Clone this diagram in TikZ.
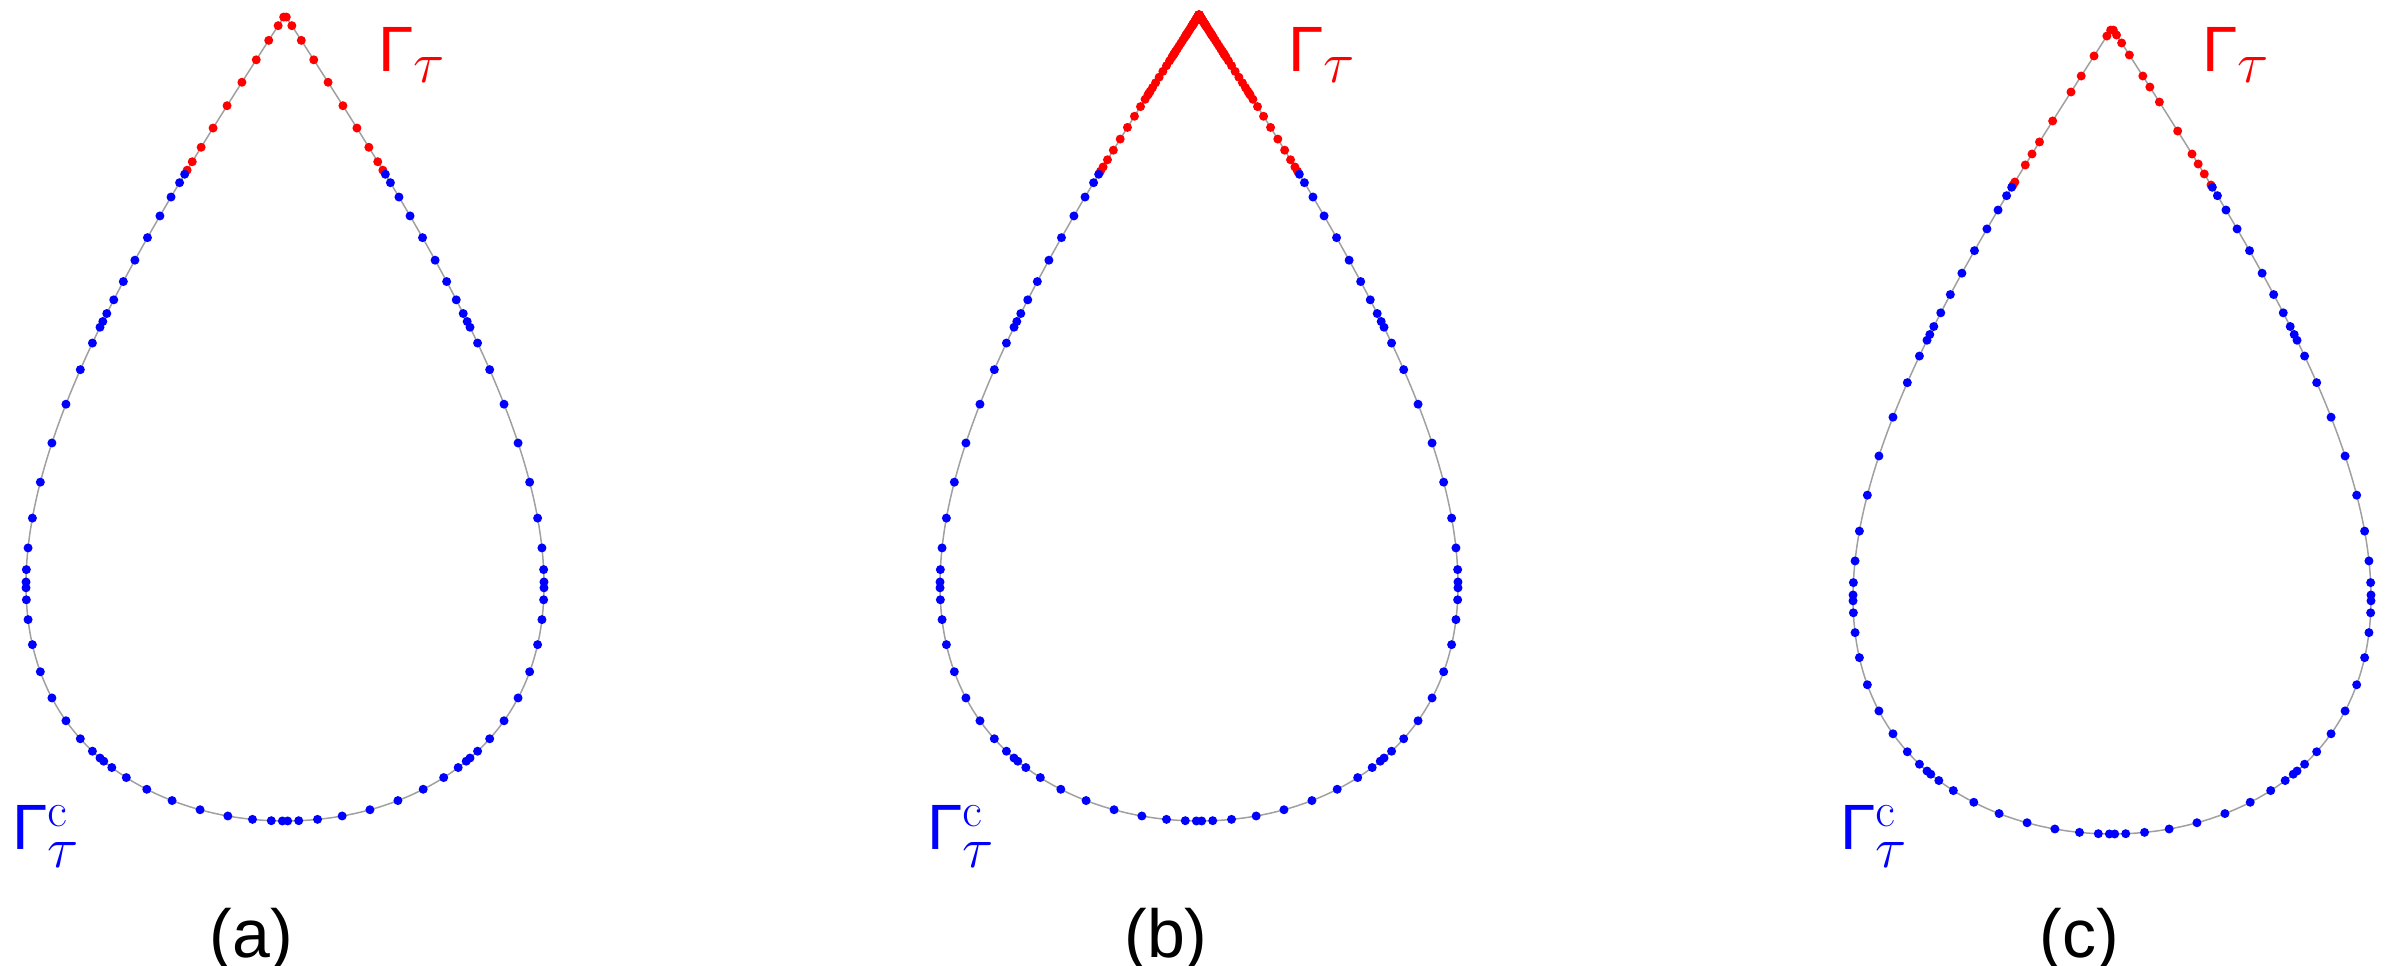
\RequirePackage{fix-cm}
\documentclass[tikz,border=0pt]{standalone}
\usepackage{fontspec}
\newfontfamily\lblfont{Liberation Sans}
\definecolor{curvegray}{RGB}{160,160,160}
\newcommand{\GL}{-0.9739065285,-0.8650633667,-0.6794095683,-0.4333953941,-0.1488743390,0.1488743390,0.4333953941,0.6794095683,0.8650633667,0.9739065285}
\newcommand{\Gsf}{{\lblfont\fontsize{64}{64}\selectfont Γ}}
\newcommand{\supc}{{\fontencoding{OT1}\fontfamily{cmr}\fontseries{m}\fontshape{n}\fontsize{48}{48}\selectfont c}}
\newcommand{\toplbl}{\Gsf\raisebox{-11pt}{\fontsize{58}{58}\selectfont$\tau$}}
\newcommand{\botlbl}{\Gsf\rlap{\raisebox{23pt}{\supc}}\raisebox{-18pt}{\fontsize{58}{58}\selectfont$\tau$}}
\tikzset{
  curveline/.style={line width=1.5pt, draw=curvegray},
  bdot/.style={fill=blue},
  rdot/.style={fill=red},
  toplabel/.style={anchor=base west, inner sep=0pt, text=red},
  botlabel/.style={anchor=base west, inner sep=0pt, text=blue},
  caption/.style={anchor=base, inner sep=0pt, font=\lblfont\fontsize{68}{68}\selectfont},
}
\begin{document}
\begin{tikzpicture}[x=1pt,y=-1pt]
\useasboundingbox (0,0) rectangle (2391,966);
% curves
\foreach \cx/\ty in {285/15, 1199/15, 2112/28}{
  \draw[curveline] plot[domain=0:360, samples=361] ({\cx+259*sin(\x)},{\ty+806*sin(\x/2)});
}
% (a) red tip panels
\foreach \a/\b in {0/22.5, 337.5/360}{
  \foreach \xi in \GL{
    \pgfmathsetmacro\t{\a+(\b-\a)*(1+\xi)/2}
    \fill[rdot] ({285+259*sin(\t)},{15+806*sin(\t/2)}) circle[radius=4.5pt];
  }
}
% (b) red graded panels
\foreach \j in {0,...,10}{
  \pgfmathsetmacro\b{22.5/(2^\j)}
  \pgfmathsetmacro\a{\b/2}
  \foreach \xi in \GL{
    \pgfmathsetmacro\t{\a+(\b-\a)*(1+\xi)/2}
    \fill[rdot] ({1199+259*sin(\t)},{15+806*sin(\t/2)}) circle[radius=4.5pt];
    \fill[rdot] ({1199-259*sin(\t)},{15+806*sin(\t/2)}) circle[radius=4.5pt];
  }
}
\foreach \xi in \GL{
  \pgfmathsetmacro\t{0.011*(1+\xi)/2}
  \fill[rdot] ({1199+259*sin(\t)},{15+806*sin(\t/2)}) circle[radius=4.5pt];
  \fill[rdot] ({1199-259*sin(\t)},{15+806*sin(\t/2)}) circle[radius=4.5pt];
}
% (c) red nodes
\foreach \t in {0.3,1.0,2.13,3.84,6.83,8.40,10.54,14.69,17.99,19.43,20.87,22.47}{
  \fill[rdot] ({2112+259*sin(\t)},{28+806*sin(\t/2)}) circle[radius=4.5pt];
}
\foreach \t in {0.3,1.14,3.98,6.83,9.11,13.25,16.26,17.99,19.57,22.03,22.47}{
  \fill[rdot] ({2112-259*sin(\t)},{28+806*sin(\t/2)}) circle[radius=4.5pt];
}
% blue panels, all three
\foreach \cx/\ty in {285/15, 1199/15, 2112/28}{
  \foreach \a/\b in {22.5/45, 45/90, 90/135, 135/180, 180/225, 225/270, 270/315, 315/337.5}{
    \foreach \xi in \GL{
      \pgfmathsetmacro\t{\a+(\b-\a)*(1+\xi)/2}
      \fill[bdot] ({\cx+259*sin(\t)},{\ty+806*sin(\t/2)}) circle[radius=4.5pt];
    }
  }
}
% labels
\node[toplabel] (gta) at (378,71) {\toplbl};
\node[toplabel] (gtb) at (1288,71) {\toplbl};
\node[toplabel] (gtc) at (2202,71) {\toplbl};
\node[botlabel] (gca) at (12,849) {\botlbl};
\node[botlabel] (gcb) at (927,849) {\botlbl};
\node[botlabel] (gcc) at (1840,849) {\botlbl};
\node[caption] (capa) at (251.5,957) {(a)};
\node[caption] (capb) at (1166,957) {(b)};
\node[caption] (capc) at (2079,957) {(c)};
\end{tikzpicture}
\end{document}
